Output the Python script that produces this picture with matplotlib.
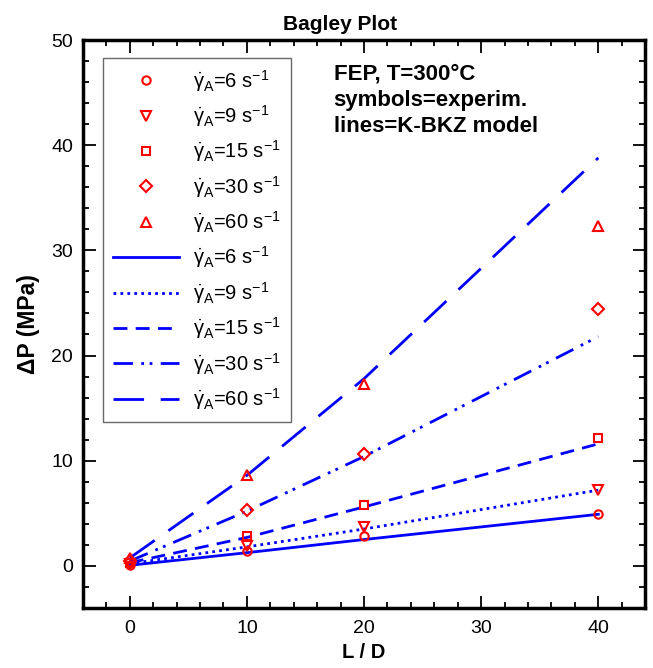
import matplotlib
matplotlib.use("Agg")
import matplotlib.pyplot as plt
from matplotlib.ticker import MultipleLocator

plt.rcParams['font.family'] = ['Liberation Sans', 'DejaVu Sans']
plt.rcParams['mathtext.fontset'] = 'custom'
plt.rcParams['mathtext.rm'] = 'Liberation Sans'
plt.rcParams['mathtext.it'] = 'Liberation Sans'
plt.rcParams['mathtext.bf'] = 'Liberation Sans:bold'

rates = [6, 9, 15, 30, 60]
ld_exp = [0, 10, 20, 40]
dp_exp_6 = [0.1, 1.4, 2.85, 4.95]
dp_exp_9 = [0.2, 1.85, 3.7, 7.2]
dp_exp_15 = [0.3, 2.85, 5.8, 12.2]
dp_exp_30 = [0.5, 5.3, 10.6, 24.4]
dp_exp_60 = [0.7, 8.6, 17.3, 32.3]

ld_model = [0, 10, 20, 40]
dp_mod_6 = [0.05, 1.25, 2.5, 4.9]
dp_mod_9 = [0.2, 1.8, 3.5, 7.2]
dp_mod_15 = [0.3, 2.7, 5.6, 11.6]
dp_mod_30 = [0.45, 5.2, 10.4, 21.8]
dp_mod_60 = [0.75, 8.6, 17.8, 38.8]

exp_data = [dp_exp_6, dp_exp_9, dp_exp_15, dp_exp_30, dp_exp_60]
mod_data = [dp_mod_6, dp_mod_9, dp_mod_15, dp_mod_30, dp_mod_60]
markers = ['o', 'v', 's', 'D', '^']
msizes = [6, 6.5, 6, 6, 6.5]
linestyles = ['-', (0, (1, 1.5)), (0, (5, 3)), (0, (7, 3, 1, 2, 1, 3)), (0, (11, 6))]

fig = plt.figure(figsize=(6.53, 6.68), dpi=100)
ax = fig.add_axes([0.127, 0.09, 0.861, 0.85])

handles = []
labels = []
for r, d, m, ms in zip(rates, exp_data, markers, msizes):
    h, = ax.plot(ld_exp, d, linestyle='none', marker=m, ms=ms, mfc='none',
                 mec='red', mew=1.5, zorder=3)
    handles.append(h)
    labels.append(r'$\dot{\gamma}_{\mathrm{A}}$=%d s$^{-1}$' % r)
for r, d, ls in zip(rates, mod_data, linestyles):
    h, = ax.plot(ld_model, d, color='blue', lw=2, linestyle=ls, zorder=2)
    handles.append(h)
    labels.append(r'$\dot{\gamma}_{\mathrm{A}}$=%d s$^{-1}$' % r)

ax.set_xlim(-4, 44)
ax.set_ylim(-4, 50)
ax.xaxis.set_major_locator(MultipleLocator(10))
ax.xaxis.set_minor_locator(MultipleLocator(2))
ax.yaxis.set_major_locator(MultipleLocator(10))
ax.yaxis.set_minor_locator(MultipleLocator(2))
ax.tick_params(which='both', direction='in', top=True, right=True, labelsize=14, width=1.3)
ax.tick_params(which='major', length=9)
ax.tick_params(which='minor', length=4.5)
ax.tick_params(axis='x', pad=9)
ax.tick_params(axis='y', pad=7)
for s in ax.spines.values():
    s.set_linewidth(2.5)

ax.set_xlabel('L / D', fontsize=14.5, fontweight='bold', labelpad=4)
ax.set_ylabel('ΔP (MPa)', fontsize=16.5, fontweight='bold', labelpad=8)
ax.set_title('Bagley Plot', fontsize=15, fontweight='bold', pad=7, x=0.457)

leg = ax.legend(handles, labels, loc='upper left', bbox_to_anchor=(0.036, 0.969),
                fontsize=14.5, handlelength=3.25, labelspacing=0.47, handletextpad=0.7,
                frameon=True, fancybox=False, borderpad=0.5, borderaxespad=0)
leg.get_frame().set_edgecolor('#444444')
leg.get_frame().set_linewidth(1.0)

ax.text(0.446, 0.958, 'FEP, T=300°C\nsymbols=experim.\nlines=K-BKZ model',
        transform=ax.transAxes, fontsize=16, fontweight='bold', va='top', ha='left',
        linespacing=1.3)

fig.savefig('out.png', dpi=100)
